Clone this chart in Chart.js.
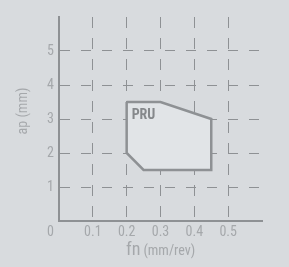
<!DOCTYPE html>
<html>
<head>
<meta charset="utf-8">
<script src="https://cdn.jsdelivr.net/npm/chart.js@4.4.0/dist/chart.umd.min.js"></script>
<style>
  body { margin: 0; background: #d8dbde; }
  canvas { display: block; }
</style>
</head>
<body>
<canvas id="myChart" width="289" height="267"></canvas>
<script>
// zona de trabajo PRU (fn, ap)
const fnValues = [0.2, 0.3, 0.45, 0.45, 0.25, 0.2, 0.2];
const apValues = [3.5, 3.5, 3, 1.5, 1.5, 2, 3.5];
const zoneLabel = 'PRU';

// ticks de los ejes
const fnTicks = [0.1, 0.2, 0.3, 0.4, 0.5];
const apTicks = [1, 2, 3, 4, 5];

// colores
const lineGray = '#8e9194';
const textGray = '#a5a8ab';
const fillColor = '#e1e4e7';
const fontName = "'Roboto Condensed', 'DejaVu Sans Condensed', sans-serif";

const points = fnValues.map((fn, i) => ({ x: fn, y: apValues[i] }));

// textos que chart.js no sabe poner solo (origen, titulos con dos tamaños, etiqueta)
const extraText = {
    id: 'extraText',
    afterDatasetsDraw(chart) {
        const { ctx, scales: { x, y } } = chart;
        ctx.save();
        ctx.fillStyle = textGray;
        ctx.font = '14px ' + fontName;
        ctx.textAlign = 'right';
        ctx.textBaseline = 'middle';
        ctx.fillText('0', y.right - 5, x.top + 11);

        // titulo eje y
        ctx.save();
        ctx.translate(23, 111);
        ctx.rotate(-Math.PI / 2);
        ctx.textAlign = 'center';
        ctx.fillText('ap (mm)', 0, 0);
        ctx.restore();

        // titulo eje x
        ctx.textAlign = 'left';
        ctx.textBaseline = 'alphabetic';
        ctx.font = '18px ' + fontName;
        ctx.fillText('fn', 126, 255);
        const w = ctx.measureText('fn').width;
        ctx.font = '14px ' + fontName;
        ctx.fillText('(mm/rev)', 126 + w + 3, 255);

        // etiqueta zona
        ctx.fillStyle = '#85888b';
        ctx.font = 'bold 14px ' + fontName;
        ctx.textBaseline = 'top';
        ctx.fillText(zoneLabel, x.getPixelForValue(fnValues[0]) + 5, y.getPixelForValue(apValues[0]) + 6);
        ctx.restore();
    }
};

const gridColor = (list) => (c) => list.some(v => Math.abs(v - c.tick.value) < 1e-6) ? lineGray : 'transparent';

const ctx = document.getElementById('myChart');

const myChart = new Chart(ctx, {
    type: 'scatter',
    data: {
        datasets: [{
            label: zoneLabel,
            data: points,
            showLine: true,
            fill: 'shape',
            backgroundColor: fillColor,
            borderColor: lineGray,
            borderWidth: 2.5,
            pointRadius: 0,
            tension: 0
        }]
    },
    options: {
        responsive: false,
        animation: false,
        layout: { padding: { top: 17, right: 27, left: 0, bottom: 0 } },
        plugins: {
            legend: { display: false },
            tooltip: { enabled: false }
        },
        scales: {
            x: {
                type: 'linear',
                min: 0,
                max: 0.6,
                afterFit: (s) => { s.height = 46; },
                ticks: {
                    stepSize: 0.1,
                    autoSkip: false,
                    padding: 3,
                    color: textGray,
                    font: { family: fontName, size: 14 },
                    callback: (v) => fnTicks.some(t => Math.abs(t - v) < 1e-6) ? String(Math.round(v * 10) / 10) : ''
                },
                grid: { color: gridColor(fnTicks), lineWidth: 1, drawTicks: false },
                border: { display: true, color: lineGray, width: 2, dash: [11, 10] }
            },
            y: {
                min: 0,
                max: 6,
                afterFit: (s) => { s.width = 59; },
                ticks: {
                    stepSize: 1,
                    autoSkip: false,
                    padding: 5,
                    color: textGray,
                    font: { family: fontName, size: 14 },
                    callback: (v) => apTicks.includes(v) ? String(v) : ''
                },
                grid: { color: gridColor(apTicks), lineWidth: 1, drawTicks: false },
                border: { display: true, color: lineGray, width: 2, dash: [10, 11] }
            }
        }
    },
    plugins: [extraText]
});
</script>
</body>
</html>
